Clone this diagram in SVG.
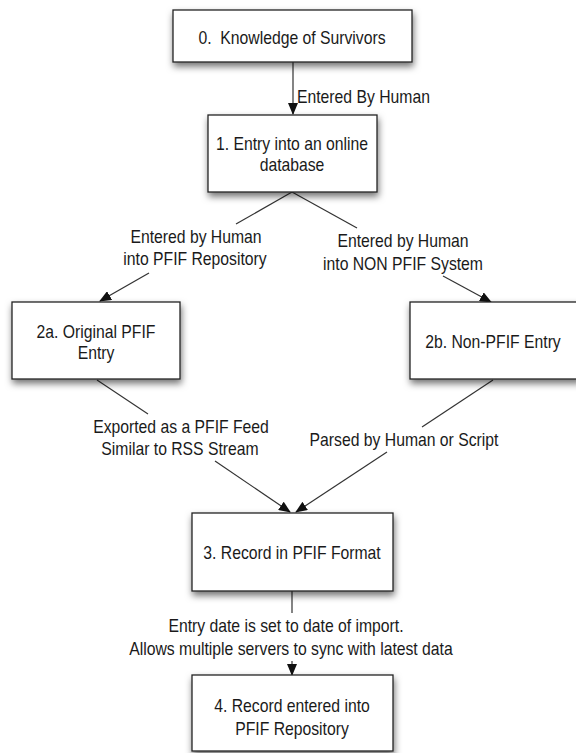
<svg xmlns="http://www.w3.org/2000/svg" width="576" height="753" viewBox="0 0 576 753">
<defs>
<filter id="sh" x="-20%" y="-20%" width="140%" height="150%">
<feDropShadow dx="1" dy="4" stdDeviation="3.5" flood-color="#000" flood-opacity="0.55"/>
</filter>
<marker id="ah" markerWidth="12" markerHeight="10" refX="11" refY="5" orient="auto" markerUnits="userSpaceOnUse">
<path d="M0,0 L12,5 L0,10 Z" fill="#111"/>
</marker>
<style>
.box{fill:#fff;stroke:#222;stroke-width:1.3;filter:url(#sh)}
.t{font-family:"Liberation Sans",Arial,sans-serif;font-size:17.5px;fill:#1a1a1a}
.c{text-anchor:middle}
.ln{stroke:#333;stroke-width:1.2;fill:none}
</style>
</defs>
<rect width="576" height="753" fill="#fff"/>

<g id="connectors">
<line class="ln" x1="293" y1="62" x2="293" y2="114" marker-end="url(#ah)"/>
<line class="ln" x1="292" y1="192" x2="236" y2="224"/>
<line class="ln" x1="149" y1="273" x2="100" y2="301" marker-end="url(#ah)"/>
<line class="ln" x1="292" y1="192" x2="357" y2="228"/>
<line class="ln" x1="443" y1="276" x2="491" y2="302" marker-end="url(#ah)"/>
<line class="ln" x1="97" y1="380" x2="148" y2="414"/>
<line class="ln" x1="215" y1="461" x2="290" y2="512" marker-end="url(#ah)"/>
<line class="ln" x1="493" y1="380" x2="422" y2="427"/>
<line class="ln" x1="387" y1="452" x2="296" y2="512" marker-end="url(#ah)"/>
<line class="ln" x1="292" y1="591" x2="292" y2="613"/>
<line class="ln" x1="292" y1="661" x2="292" y2="675" marker-end="url(#ah)"/>
<g class="t">
<text transform="translate(297,103) scale(0.9,1)">Entered By Human</text>
<text class="c" transform="translate(196,243) scale(0.9,1)">Entered by Human</text>
<text class="c" transform="translate(195,265) scale(0.9,1)">into PFIF Repository</text>
<text class="c" transform="translate(403,247) scale(0.9,1)">Entered by Human</text>
<text class="c" transform="translate(403,270) scale(0.9,1)">into NON PFIF System</text>
<text class="c" transform="translate(181,433) scale(0.9,1)">Exported as a PFIF Feed</text>
<text class="c" transform="translate(180,455) scale(0.9,1)">Similar to RSS Stream</text>
<text class="c" transform="translate(404,446) scale(0.9,1)">Parsed by Human or Script</text>
<text class="c" transform="translate(286,632) scale(0.9,1)">Entry date is set to date of import.</text>
<text class="c" transform="translate(291,655) scale(0.9,1)">Allows multiple servers to sync with latest data</text>
</g>
</g>

<g id="node0">
<rect class="box" x="173" y="10" width="239" height="52"/>
<text class="t c" transform="translate(292,44) scale(0.9,1)" xml:space="preserve">0.  Knowledge of Survivors</text>
</g>
<g id="node1">
<rect class="box" x="208" y="115" width="169" height="77"/>
<text class="t c" transform="translate(292,150) scale(0.9,1)">1. Entry into an online</text>
<text class="t c" transform="translate(292,171) scale(0.9,1)">database</text>
</g>
<g id="node2a">
<rect class="box" x="12" y="302" width="168" height="77"/>
<text class="t c" transform="translate(96,338) scale(0.9,1)">2a. Original PFIF</text>
<text class="t c" transform="translate(96,359) scale(0.9,1)">Entry</text>
</g>
<g id="node2b">
<rect class="box" x="410" y="302" width="170" height="77"/>
<text class="t c" transform="translate(493,348) scale(0.9,1)">2b. Non-PFIF Entry</text>
</g>
<g id="node3">
<rect class="box" x="192" y="513" width="201" height="78"/>
<text class="t c" transform="translate(292,559) scale(0.9,1)">3. Record in PFIF Format</text>
</g>
<g id="node4">
<rect class="box" x="192" y="675" width="201" height="76"/>
<text class="t c" transform="translate(292,712) scale(0.9,1)">4. Record entered into</text>
<text class="t c" transform="translate(292,735) scale(0.9,1)">PFIF Repository</text>
</g>
</svg>
